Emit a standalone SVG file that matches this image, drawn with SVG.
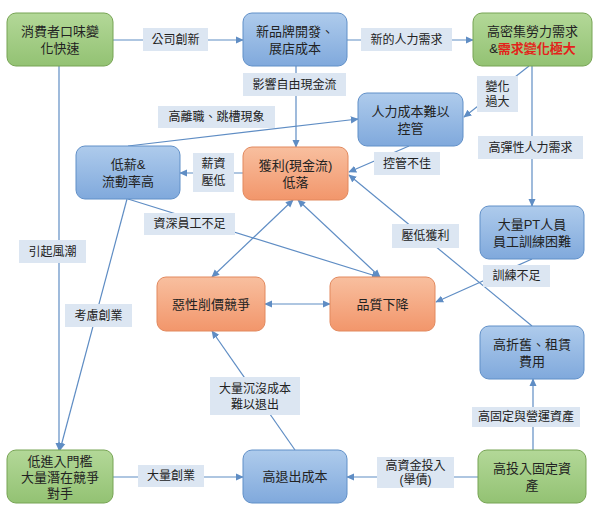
<svg xmlns="http://www.w3.org/2000/svg" width="597" height="515" viewBox="0 0 597 515" lang="zh-Hant-TW">
<defs>
<linearGradient id="gG" x1="0" y1="0" x2="0" y2="1"><stop offset="0" stop-color="#b3d898"/><stop offset="1" stop-color="#93c273"/></linearGradient>
<linearGradient id="gB" x1="0" y1="0" x2="0" y2="1"><stop offset="0" stop-color="#aecbec"/><stop offset="1" stop-color="#80a9dc"/></linearGradient>
<linearGradient id="gO" x1="0" y1="0" x2="0" y2="1"><stop offset="0" stop-color="#f8bf9f"/><stop offset="1" stop-color="#f2966b"/></linearGradient>
<marker id="ah" viewBox="0 0 10 10" refX="9" refY="5" markerWidth="8" markerHeight="8" markerUnits="userSpaceOnUse" orient="auto-start-reverse"><path d="M0,0.5 L10,5 L0,9.5 Z" fill="#5f8dc4"/></marker>
<style>
.g{fill:url(#gG);stroke:#77a454;stroke-width:1}
.b{fill:url(#gB);stroke:#6190c8;stroke-width:1}
.o{fill:url(#gO);stroke:#e2895e;stroke-width:1}
.t{font-family:"Liberation Sans","Noto Sans CJK TC","Noto Sans CJK SC",sans-serif;font-size:13px;fill:#222;text-anchor:middle;dominant-baseline:central}
.l{font-family:"Liberation Sans","Noto Sans CJK TC","Noto Sans CJK SC",sans-serif;font-size:12px;fill:#222;text-anchor:middle;dominant-baseline:central}
.lb{fill:#dce6f2;stroke:none}
.c{stroke:#5f8dc4;stroke-width:1.2;fill:none}
.e{marker-end:url(#ah)}
.d{marker-start:url(#ah);marker-end:url(#ah)}
.red{fill:#e3231b;font-weight:bold}
</style>
</defs>
<g id="connectors">
<line class="c e" x1="113" y1="40" x2="243" y2="40"/>
<line class="c e" x1="347" y1="40" x2="473" y2="40"/>
<line class="c e" x1="296" y1="66" x2="296" y2="147"/>
<line class="c e" x1="128" y1="146" x2="358" y2="119"/>
<line class="c e" x1="529" y1="66" x2="464" y2="117"/>
<line class="c e" x1="532" y1="66" x2="532" y2="206"/>
<line class="c e" x1="243" y1="173" x2="180" y2="173"/>
<line class="c e" x1="409" y1="146" x2="349" y2="172"/>
<line class="c e" x1="532" y1="326" x2="349" y2="175"/>
<line class="c e" x1="128" y1="199" x2="379" y2="277"/>
<line class="c e" x1="127" y1="199" x2="60" y2="450"/>
<line class="c e" x1="59" y1="66" x2="59" y2="450"/>
<line class="c e" x1="532" y1="259" x2="436" y2="302"/>
<line class="c d" x1="293" y1="200" x2="212" y2="277"/>
<line class="c d" x1="298" y1="200" x2="380" y2="277"/>
<line class="c d" x1="265" y1="304" x2="330" y2="304"/>
<line class="c e" x1="295" y1="450" x2="212" y2="331"/>
<line class="c e" x1="533" y1="450" x2="533" y2="379"/>
<line class="c e" x1="113" y1="477" x2="243" y2="477"/>
<line class="c e" x1="478" y1="477" x2="347" y2="477"/>
</g>
<g id="edge-labels">
<rect class="lb" x="143" y="28" width="65" height="23"/><text class="l" x="175.5" y="39.5">公司創新</text>
<rect class="lb" x="361" y="28" width="91" height="23"/><text class="l" x="406.5" y="39.5">新的人力需求</text>
<rect class="lb" x="243" y="73" width="103" height="23"/><text class="l" x="294.5" y="84.5">影響自由現金流</text>
<rect class="lb" x="158" y="106" width="117" height="22"/><text class="l" x="216.5" y="117">高離職、跳槽現象</text>
<rect class="lb" x="477" y="76" width="41" height="36"/><text class="l" x="497.5" y="86.5">變化<tspan x="497.5" dy="15.5">過大</tspan></text>
<rect class="lb" x="478" y="136" width="105" height="23"/><text class="l" x="530.5" y="147.5">高彈性人力需求</text>
<rect class="lb" x="193" y="153" width="41" height="39"/><text class="l" x="213.5" y="164">薪資<tspan x="213.5" dy="17">壓低</tspan></text>
<rect class="lb" x="374" y="152" width="66" height="23"/><text class="l" x="407" y="163.5">控管不佳</text>
<rect class="lb" x="144" y="213" width="91" height="22"/><text class="l" x="189.5" y="224">資深員工不足</text>
<rect class="lb" x="392" y="224" width="67" height="24"/><text class="l" x="425.5" y="236">壓低獲利</text>
<rect class="lb" x="19" y="240" width="67" height="23"/><text class="l" x="52.5" y="251.5">引起風潮</text>
<rect class="lb" x="483" y="265" width="67" height="22"/><text class="l" x="516.5" y="276">訓練不足</text>
<rect class="lb" x="65" y="304" width="67" height="23"/><text class="l" x="98.5" y="315.5">考慮創業</text>
<rect class="lb" x="210" y="377" width="90" height="38"/><text class="l" x="255" y="389">大量沉沒成本<tspan x="255" dy="16">難以退出</tspan></text>
<rect class="lb" x="472" y="407" width="108" height="20"/><text class="l" x="526" y="417">高固定與營運資產</text>
<rect class="lb" x="138" y="465" width="66" height="22"/><text class="l" x="171" y="476">大量創業</text>
<rect class="lb" x="377" y="457" width="77" height="31"/><text class="l" x="415.5" y="465.5">高資金投入<tspan x="415.5" dy="14.5">(舉債)</tspan></text>
</g>
<g id="n1"><rect class="g" x="7" y="13" width="106" height="53" rx="9"/><text class="t" x="60" y="31">消費者口味變<tspan x="60" dy="17">化快速</tspan></text></g>
<g id="n2"><rect class="b" x="243" y="13" width="104" height="53" rx="9"/><text class="t" x="295" y="31">新品牌開發、<tspan x="295" dy="17">展店成本</tspan></text></g>
<g id="n3"><rect class="g" x="473" y="13" width="119" height="53" rx="9"/><text class="t" x="532.5" y="31">高密集勞力需求<tspan x="532.5" dy="17">&amp;</tspan><tspan class="red">需求變化極大</tspan></text></g>
<g id="n4"><rect class="b" x="358" y="93" width="105" height="53" rx="9"/><text class="t" x="410.5" y="111">人力成本難以<tspan x="410.5" dy="17">控管</tspan></text></g>
<g id="n5"><rect class="b" x="76" y="146" width="104" height="53" rx="9"/><text class="t" x="128" y="164">低薪&amp;<tspan x="128" dy="17">流動率高</tspan></text></g>
<g id="n6"><rect class="o" x="243" y="147" width="105" height="53" rx="9"/><text class="t" x="295.5" y="165">獲利(現金流)<tspan x="295.5" dy="17">低落</tspan></text></g>
<g id="n7"><rect class="b" x="480" y="206" width="104" height="53" rx="9"/><text class="t" x="532" y="224">大量PT人員<tspan x="532" dy="17">員工訓練困難</tspan></text></g>
<g id="n8"><rect class="o" x="157" y="277" width="108" height="54" rx="9"/><text class="t" x="211" y="304">惡性削價競爭</text></g>
<g id="n9"><rect class="o" x="330" y="277" width="105" height="54" rx="9"/><text class="t" x="382.5" y="304">品質下降</text></g>
<g id="n10"><rect class="b" x="480" y="326" width="104" height="53" rx="9"/><text class="t" x="532" y="344">高折舊、租賃<tspan x="532" dy="17">費用</tspan></text></g>
<g id="n11"><rect class="g" x="7" y="450" width="106" height="53" rx="9"/><text class="t" x="60" y="461">低進入門檻<tspan x="60" dy="16">大量潛在競爭</tspan><tspan x="60" dy="16">對手</tspan></text></g>
<g id="n12"><rect class="b" x="243" y="450" width="104" height="53" rx="9"/><text class="t" x="295" y="476.5">高退出成本</text></g>
<g id="n13"><rect class="g" x="478" y="450" width="108" height="53" rx="9"/><text class="t" x="532" y="468">高投入固定資<tspan x="532" dy="17">產</tspan></text></g>
</svg>
